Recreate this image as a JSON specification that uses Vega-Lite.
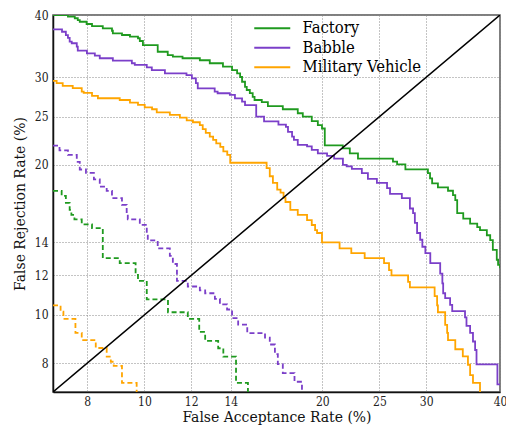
{
"$schema":"https://vega.github.io/schema/vega-lite/v6.json",
"width":447,"height":377,
"autosize":{"type":"none"},
"padding":{"left":53,"top":15,"right":6,"bottom":35},
"background":"white",
"config":{
 "font":"DejaVu Serif Condensed",
 "view":{"stroke":"#555","strokeWidth":1.5},
 "axis":{"labelFont":"DejaVu Serif Condensed","titleFont":"DejaVu Serif Condensed","labelFontSize":12,"titleFontSize":15.5,"titleFontWeight":"normal","labelColor":"#222","titleColor":"#111","grid":true,"gridDash":[1,2],"gridColor":"#888","gridWidth":1,"gridOpacity":1,"ticks":false,"domainColor":"#111","domainWidth":1.5,"labelFlush":false,"labelOverlap":false}
},
"datasets":{
"curves":[
{"series":"Factory","style":"solid","far":7.0,"frr":40.0},
{"series":"Factory","style":"solid","far":7.42,"frr":39.7},
{"series":"Factory","style":"solid","far":7.62,"frr":39.4},
{"series":"Factory","style":"solid","far":7.71,"frr":39.07},
{"series":"Factory","style":"solid","far":7.77,"frr":38.77},
{"series":"Factory","style":"solid","far":7.98,"frr":38.37},
{"series":"Factory","style":"solid","far":8.15,"frr":38.0},
{"series":"Factory","style":"solid","far":8.5,"frr":37.61},
{"series":"Factory","style":"solid","far":8.81,"frr":37.19},
{"series":"Factory","style":"solid","far":8.84,"frr":36.75},
{"series":"Factory","style":"solid","far":9.16,"frr":36.47},
{"series":"Factory","style":"solid","far":9.45,"frr":36.18},
{"series":"Factory","style":"solid","far":9.75,"frr":35.92},
{"series":"Factory","style":"solid","far":9.82,"frr":35.47},
{"series":"Factory","style":"solid","far":9.94,"frr":34.8},
{"series":"Factory","style":"solid","far":10.53,"frr":33.75},
{"series":"Factory","style":"solid","far":10.95,"frr":33.24},
{"series":"Factory","style":"solid","far":11.17,"frr":32.99},
{"series":"Factory","style":"solid","far":11.6,"frr":32.75},
{"series":"Factory","style":"solid","far":12.41,"frr":32.45},
{"series":"Factory","style":"solid","far":12.9,"frr":32.0},
{"series":"Factory","style":"solid","far":13.58,"frr":31.5},
{"series":"Factory","style":"solid","far":14.07,"frr":31.0},
{"series":"Factory","style":"solid","far":14.35,"frr":30.55},
{"series":"Factory","style":"solid","far":14.52,"frr":30.03},
{"series":"Factory","style":"solid","far":14.63,"frr":29.38},
{"series":"Factory","style":"solid","far":14.8,"frr":28.7},
{"series":"Factory","style":"solid","far":14.9,"frr":28.28},
{"series":"Factory","style":"solid","far":15.08,"frr":27.88},
{"series":"Factory","style":"solid","far":15.25,"frr":27.4},
{"series":"Factory","style":"solid","far":15.36,"frr":27.0},
{"series":"Factory","style":"solid","far":15.8,"frr":26.75},
{"series":"Factory","style":"solid","far":16.18,"frr":26.26},
{"series":"Factory","style":"solid","far":17.15,"frr":25.87},
{"series":"Factory","style":"solid","far":18.18,"frr":25.4},
{"series":"Factory","style":"solid","far":18.54,"frr":25.0},
{"series":"Factory","style":"solid","far":19.2,"frr":24.5},
{"series":"Factory","style":"solid","far":19.66,"frr":24.05},
{"series":"Factory","style":"solid","far":19.98,"frr":23.67},
{"series":"Factory","style":"solid","far":20.2,"frr":21.9},
{"series":"Factory","style":"solid","far":21.67,"frr":21.6},
{"series":"Factory","style":"solid","far":22.27,"frr":21.1},
{"series":"Factory","style":"solid","far":22.99,"frr":20.6},
{"series":"Factory","style":"solid","far":26.35,"frr":20.3},
{"series":"Factory","style":"solid","far":26.78,"frr":20.06},
{"series":"Factory","style":"solid","far":27.66,"frr":19.6},
{"series":"Factory","style":"solid","far":30.2,"frr":19.25},
{"series":"Factory","style":"solid","far":30.45,"frr":18.8},
{"series":"Factory","style":"solid","far":30.7,"frr":18.37},
{"series":"Factory","style":"solid","far":31.4,"frr":18.03},
{"series":"Factory","style":"solid","far":32.66,"frr":17.75},
{"series":"Factory","style":"solid","far":33.3,"frr":17.4},
{"series":"Factory","style":"solid","far":33.6,"frr":17.0},
{"series":"Factory","style":"solid","far":33.85,"frr":16.0},
{"series":"Factory","style":"solid","far":34.66,"frr":15.6},
{"series":"Factory","style":"solid","far":35.6,"frr":15.25},
{"series":"Factory","style":"solid","far":36.6,"frr":15.0},
{"series":"Factory","style":"solid","far":37.0,"frr":14.8},
{"series":"Factory","style":"solid","far":38.0,"frr":14.45},
{"series":"Factory","style":"solid","far":38.5,"frr":14.13},
{"series":"Factory","style":"solid","far":38.9,"frr":13.5},
{"series":"Factory","style":"solid","far":39.5,"frr":12.9},
{"series":"Factory","style":"solid","far":39.7,"frr":12.6},
{"series":"Factory","style":"solid","far":40.0,"frr":12.4},
{"series":"Babble","style":"solid","far":7.0,"frr":37.44},
{"series":"Babble","style":"solid","far":7.25,"frr":37.02},
{"series":"Babble","style":"solid","far":7.36,"frr":36.44},
{"series":"Babble","style":"solid","far":7.42,"frr":35.97},
{"series":"Babble","style":"solid","far":7.47,"frr":35.37},
{"series":"Babble","style":"solid","far":7.53,"frr":35.1},
{"series":"Babble","style":"solid","far":7.68,"frr":34.55},
{"series":"Babble","style":"solid","far":7.71,"frr":33.94},
{"series":"Babble","style":"solid","far":7.99,"frr":33.5},
{"series":"Babble","style":"solid","far":8.24,"frr":33.14},
{"series":"Babble","style":"solid","far":8.4,"frr":32.75},
{"series":"Babble","style":"solid","far":8.84,"frr":32.39},
{"series":"Babble","style":"solid","far":9.52,"frr":32.0},
{"series":"Babble","style":"solid","far":9.63,"frr":31.75},
{"series":"Babble","style":"solid","far":10.09,"frr":31.4},
{"series":"Babble","style":"solid","far":10.29,"frr":31.0},
{"series":"Babble","style":"solid","far":10.83,"frr":30.55},
{"series":"Babble","style":"solid","far":11.78,"frr":30.3},
{"series":"Babble","style":"solid","far":12.03,"frr":29.85},
{"series":"Babble","style":"solid","far":12.22,"frr":29.2},
{"series":"Babble","style":"solid","far":12.31,"frr":28.5},
{"series":"Babble","style":"solid","far":13.15,"frr":28.06},
{"series":"Babble","style":"solid","far":13.3,"frr":27.86},
{"series":"Babble","style":"solid","far":13.95,"frr":27.65},
{"series":"Babble","style":"solid","far":14.23,"frr":27.2},
{"series":"Babble","style":"solid","far":14.63,"frr":26.8},
{"series":"Babble","style":"solid","far":14.8,"frr":26.38},
{"series":"Babble","style":"solid","far":15.46,"frr":25.0},
{"series":"Babble","style":"solid","far":15.94,"frr":24.45},
{"series":"Babble","style":"solid","far":16.86,"frr":24.1},
{"series":"Babble","style":"solid","far":17.36,"frr":23.85},
{"series":"Babble","style":"solid","far":17.5,"frr":23.3},
{"series":"Babble","style":"solid","far":17.78,"frr":22.8},
{"series":"Babble","style":"solid","far":17.91,"frr":22.45},
{"series":"Babble","style":"solid","far":18.18,"frr":21.95},
{"series":"Babble","style":"solid","far":18.85,"frr":21.8},
{"series":"Babble","style":"solid","far":19.2,"frr":21.44},
{"series":"Babble","style":"solid","far":19.66,"frr":21.1},
{"series":"Babble","style":"solid","far":20.38,"frr":20.85},
{"series":"Babble","style":"solid","far":20.95,"frr":20.6},
{"series":"Babble","style":"solid","far":21.68,"frr":20.0},
{"series":"Babble","style":"solid","far":22.0,"frr":19.87},
{"series":"Babble","style":"solid","far":22.45,"frr":19.64},
{"series":"Babble","style":"solid","far":23.34,"frr":19.25},
{"series":"Babble","style":"solid","far":23.9,"frr":18.75},
{"series":"Babble","style":"solid","far":24.75,"frr":18.4},
{"series":"Babble","style":"solid","far":25.75,"frr":17.96},
{"series":"Babble","style":"solid","far":26.05,"frr":17.5},
{"series":"Babble","style":"solid","far":27.28,"frr":17.16},
{"series":"Babble","style":"solid","far":28.15,"frr":16.35},
{"series":"Babble","style":"solid","far":28.5,"frr":16.0},
{"series":"Babble","style":"solid","far":28.7,"frr":15.3},
{"series":"Babble","style":"solid","far":28.95,"frr":14.6},
{"series":"Babble","style":"solid","far":29.3,"frr":14.15},
{"series":"Babble","style":"solid","far":29.55,"frr":13.7},
{"series":"Babble","style":"solid","far":29.9,"frr":13.3},
{"series":"Babble","style":"solid","far":30.48,"frr":12.7},
{"series":"Babble","style":"solid","far":31.68,"frr":12.1},
{"series":"Babble","style":"solid","far":31.95,"frr":11.57},
{"series":"Babble","style":"solid","far":32.05,"frr":11.05},
{"series":"Babble","style":"solid","far":32.3,"frr":10.8},
{"series":"Babble","style":"solid","far":32.93,"frr":10.47},
{"series":"Babble","style":"solid","far":33.2,"frr":10.17},
{"series":"Babble","style":"solid","far":34.9,"frr":9.88},
{"series":"Babble","style":"solid","far":35.1,"frr":9.5},
{"series":"Babble","style":"solid","far":35.6,"frr":9.2},
{"series":"Babble","style":"solid","far":36.0,"frr":8.84},
{"series":"Babble","style":"solid","far":36.3,"frr":8.5},
{"series":"Babble","style":"solid","far":36.5,"frr":7.95},
{"series":"Babble","style":"solid","far":39.6,"frr":7.25},
{"series":"Babble","style":"solid","far":40.0,"frr":7.25},
{"series":"Military Vehicle","style":"solid","far":7.0,"frr":29.49},
{"series":"Military Vehicle","style":"solid","far":7.1,"frr":29.18},
{"series":"Military Vehicle","style":"solid","far":7.27,"frr":28.82},
{"series":"Military Vehicle","style":"solid","far":7.56,"frr":28.52},
{"series":"Military Vehicle","style":"solid","far":7.83,"frr":28.07},
{"series":"Military Vehicle","style":"solid","far":7.89,"frr":27.9},
{"series":"Military Vehicle","style":"solid","far":8.15,"frr":27.52},
{"series":"Military Vehicle","style":"solid","far":8.34,"frr":27.22},
{"series":"Military Vehicle","style":"solid","far":9.08,"frr":27.0},
{"series":"Military Vehicle","style":"solid","far":9.45,"frr":26.68},
{"series":"Military Vehicle","style":"solid","far":9.75,"frr":26.4},
{"series":"Military Vehicle","style":"solid","far":10.01,"frr":26.1},
{"series":"Military Vehicle","style":"solid","far":10.3,"frr":25.87},
{"series":"Military Vehicle","style":"solid","far":10.49,"frr":25.5},
{"series":"Military Vehicle","style":"solid","far":11.04,"frr":25.2},
{"series":"Military Vehicle","style":"solid","far":11.48,"frr":24.9},
{"series":"Military Vehicle","style":"solid","far":11.79,"frr":24.57},
{"series":"Military Vehicle","style":"solid","far":12.08,"frr":24.36},
{"series":"Military Vehicle","style":"solid","far":12.41,"frr":24.05},
{"series":"Military Vehicle","style":"solid","far":12.55,"frr":23.6},
{"series":"Military Vehicle","style":"solid","far":12.7,"frr":23.2},
{"series":"Military Vehicle","style":"solid","far":12.9,"frr":22.8},
{"series":"Military Vehicle","style":"solid","far":13.07,"frr":22.45},
{"series":"Military Vehicle","style":"solid","far":13.23,"frr":22.1},
{"series":"Military Vehicle","style":"solid","far":13.44,"frr":21.75},
{"series":"Military Vehicle","style":"solid","far":13.6,"frr":21.3},
{"series":"Military Vehicle","style":"solid","far":13.81,"frr":20.95},
{"series":"Military Vehicle","style":"solid","far":13.97,"frr":20.2},
{"series":"Military Vehicle","style":"solid","far":16.1,"frr":19.7},
{"series":"Military Vehicle","style":"solid","far":16.3,"frr":18.98},
{"series":"Military Vehicle","style":"solid","far":16.5,"frr":18.4},
{"series":"Military Vehicle","style":"solid","far":16.78,"frr":17.85},
{"series":"Military Vehicle","style":"solid","far":17.0,"frr":17.6},
{"series":"Military Vehicle","style":"solid","far":17.2,"frr":17.2},
{"series":"Military Vehicle","style":"solid","far":17.33,"frr":16.85},
{"series":"Military Vehicle","style":"solid","far":17.66,"frr":16.25},
{"series":"Military Vehicle","style":"solid","far":18.18,"frr":15.88},
{"series":"Military Vehicle","style":"solid","far":18.85,"frr":15.5},
{"series":"Military Vehicle","style":"solid","far":19.2,"frr":15.15},
{"series":"Military Vehicle","style":"solid","far":19.45,"frr":14.8},
{"series":"Military Vehicle","style":"solid","far":19.6,"frr":14.6},
{"series":"Military Vehicle","style":"solid","far":19.98,"frr":13.98},
{"series":"Military Vehicle","style":"solid","far":21.4,"frr":13.6},
{"series":"Military Vehicle","style":"solid","far":22.4,"frr":13.3},
{"series":"Military Vehicle","style":"solid","far":23.6,"frr":13.0},
{"series":"Military Vehicle","style":"solid","far":25.45,"frr":12.7},
{"series":"Military Vehicle","style":"solid","far":25.95,"frr":12.3},
{"series":"Military Vehicle","style":"solid","far":26.2,"frr":12.0},
{"series":"Military Vehicle","style":"solid","far":27.95,"frr":11.65},
{"series":"Military Vehicle","style":"solid","far":28.15,"frr":11.35},
{"series":"Military Vehicle","style":"solid","far":31.0,"frr":10.9},
{"series":"Military Vehicle","style":"solid","far":31.3,"frr":10.45},
{"series":"Military Vehicle","style":"solid","far":31.4,"frr":10.12},
{"series":"Military Vehicle","style":"solid","far":32.3,"frr":9.55},
{"series":"Military Vehicle","style":"solid","far":32.55,"frr":9.2},
{"series":"Military Vehicle","style":"solid","far":32.66,"frr":8.9},
{"series":"Military Vehicle","style":"solid","far":33.6,"frr":8.53},
{"series":"Military Vehicle","style":"solid","far":34.6,"frr":8.25},
{"series":"Military Vehicle","style":"solid","far":35.3,"frr":7.94},
{"series":"Military Vehicle","style":"solid","far":35.6,"frr":7.57},
{"series":"Military Vehicle","style":"solid","far":36.0,"frr":7.3},
{"series":"Military Vehicle","style":"solid","far":37.0,"frr":7.0},
{"series":"Factory","style":"dashed","far":7.0,"frr":17.74},
{"series":"Factory","style":"dashed","far":7.24,"frr":17.34},
{"series":"Factory","style":"dashed","far":7.36,"frr":16.78},
{"series":"Factory","style":"dashed","far":7.47,"frr":16.24},
{"series":"Factory","style":"dashed","far":7.52,"frr":15.88},
{"series":"Factory","style":"dashed","far":7.61,"frr":15.55},
{"series":"Factory","style":"dashed","far":7.83,"frr":15.2},
{"series":"Factory","style":"dashed","far":8.15,"frr":14.93},
{"series":"Factory","style":"dashed","far":8.5,"frr":13.0},
{"series":"Factory","style":"dashed","far":9.08,"frr":12.7},
{"series":"Factory","style":"dashed","far":9.66,"frr":12.03},
{"series":"Factory","style":"dashed","far":9.75,"frr":11.7},
{"series":"Factory","style":"dashed","far":10.09,"frr":10.74},
{"series":"Factory","style":"dashed","far":10.96,"frr":10.12},
{"series":"Factory","style":"dashed","far":11.84,"frr":9.82},
{"series":"Factory","style":"dashed","far":12.38,"frr":9.24},
{"series":"Factory","style":"dashed","far":12.67,"frr":8.87},
{"series":"Factory","style":"dashed","far":13.33,"frr":8.57},
{"series":"Factory","style":"dashed","far":13.6,"frr":8.24},
{"series":"Factory","style":"dashed","far":14.29,"frr":7.3},
{"series":"Factory","style":"dashed","far":14.97,"frr":7.0},
{"series":"Babble","style":"dashed","far":7.0,"frr":21.87},
{"series":"Babble","style":"dashed","far":7.18,"frr":21.39},
{"series":"Babble","style":"dashed","far":7.42,"frr":20.95},
{"series":"Babble","style":"dashed","far":7.68,"frr":20.29},
{"series":"Babble","style":"dashed","far":7.77,"frr":19.58},
{"series":"Babble","style":"dashed","far":7.96,"frr":19.28},
{"series":"Babble","style":"dashed","far":8.21,"frr":18.7},
{"series":"Babble","style":"dashed","far":8.4,"frr":18.09},
{"series":"Babble","style":"dashed","far":8.63,"frr":17.74},
{"series":"Babble","style":"dashed","far":8.81,"frr":17.15},
{"series":"Babble","style":"dashed","far":9.16,"frr":16.63},
{"series":"Babble","style":"dashed","far":9.33,"frr":16.09},
{"series":"Babble","style":"dashed","far":9.37,"frr":15.55},
{"series":"Babble","style":"dashed","far":9.82,"frr":15.16},
{"series":"Babble","style":"dashed","far":10.09,"frr":14.42},
{"series":"Babble","style":"dashed","far":10.13,"frr":14.11},
{"series":"Babble","style":"dashed","far":10.53,"frr":13.6},
{"series":"Babble","style":"dashed","far":11.04,"frr":13.13},
{"series":"Babble","style":"dashed","far":11.17,"frr":12.65},
{"series":"Babble","style":"dashed","far":11.35,"frr":11.7},
{"series":"Babble","style":"dashed","far":11.84,"frr":11.4},
{"series":"Babble","style":"dashed","far":12.41,"frr":11.2},
{"series":"Babble","style":"dashed","far":12.67,"frr":11.05},
{"series":"Babble","style":"dashed","far":13.16,"frr":10.77},
{"series":"Babble","style":"dashed","far":13.42,"frr":10.5},
{"series":"Babble","style":"dashed","far":13.8,"frr":10.25},
{"series":"Babble","style":"dashed","far":14.07,"frr":9.85},
{"series":"Babble","style":"dashed","far":14.41,"frr":9.56},
{"series":"Babble","style":"dashed","far":14.93,"frr":9.19},
{"series":"Babble","style":"dashed","far":16.0,"frr":9.0},
{"series":"Babble","style":"dashed","far":16.3,"frr":8.72},
{"series":"Babble","style":"dashed","far":16.63,"frr":8.34},
{"series":"Babble","style":"dashed","far":16.82,"frr":7.96},
{"series":"Babble","style":"dashed","far":17.15,"frr":7.64},
{"series":"Babble","style":"dashed","far":17.95,"frr":7.34},
{"series":"Babble","style":"dashed","far":18.48,"frr":7.0},
{"series":"Military Vehicle","style":"dashed","far":7.0,"frr":10.45},
{"series":"Military Vehicle","style":"dashed","far":7.21,"frr":10.15},
{"series":"Military Vehicle","style":"dashed","far":7.29,"frr":9.82},
{"series":"Military Vehicle","style":"dashed","far":7.64,"frr":9.2},
{"series":"Military Vehicle","style":"dashed","far":7.83,"frr":8.9},
{"series":"Military Vehicle","style":"dashed","far":8.27,"frr":8.58},
{"series":"Military Vehicle","style":"dashed","far":8.63,"frr":8.24},
{"series":"Military Vehicle","style":"dashed","far":8.77,"frr":8.05},
{"series":"Military Vehicle","style":"dashed","far":8.87,"frr":7.9},
{"series":"Military Vehicle","style":"dashed","far":9.16,"frr":7.3},
{"series":"Military Vehicle","style":"dashed","far":9.7,"frr":7.0}
],
"diag":[{"far":7,"frr":7},{"far":40,"frr":40}]
},
"layer":[
 {"data":{"name":"curves"},
  "mark":{"type":"line","interpolate":"step-after","strokeWidth":1.8,"clip":true},
  "encoding":{
   "x":{"field":"far","type":"quantitative","scale":{"type":"log","domain":[7,40],"nice":false},"axis":{"values":[8,10,12,14,20,25,30,40],"title":"False Acceptance Rate (%)","labelPadding":4,"titlePadding":2}},
   "y":{"field":"frr","type":"quantitative","scale":{"type":"log","domain":[7,40],"nice":false},"axis":{"values":[8,10,12,14,20,25,30,40],"title":"False Rejection Rate (%)","labelPadding":5,"titlePadding":7}},
   "color":{"field":"series","type":"nominal","scale":{"domain":["Factory","Babble","Military Vehicle"],"range":["#1f9a1f","#7b3fc9","#ffa500"]},
     "legend":{"title":null,"orient":"none","legendX":211,"legendY":5,"symbolType":"M-3,0H3","symbolSize":144,"symbolStrokeWidth":2,"symbolFillColor":"transparent","labelFontSize":16.5,"labelFont":"DejaVu Serif Condensed","labelColor":"black","rowPadding":2.5,"labelOffset":22,"padding":0}},
   "strokeDash":{"field":"style","type":"nominal","scale":{"domain":["solid","dashed"],"range":[[1,0],[5,3]]},"legend":null}
  }},
 {"data":{"name":"diag"},
  "mark":{"type":"line","color":"black","strokeWidth":1.5,"clip":true},
  "encoding":{"x":{"field":"far","type":"quantitative"},"y":{"field":"frr","type":"quantitative"}}}
]
}
